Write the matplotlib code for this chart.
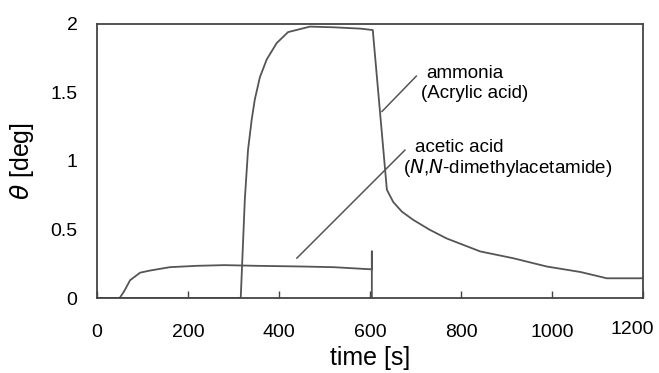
import matplotlib
matplotlib.use("Agg")
import matplotlib.pyplot as plt
import matplotlib.transforms as mtransforms

plt.rcParams['font.family'] = ['Liberation Sans', 'DejaVu Sans']

# acetic acid (N,N-dimethylacetamide)
acetic_t = [0, 50, 60, 73, 95, 116, 160, 220, 280, 350, 450, 520, 600, 604, 604, 604]
acetic_v = [0, 0, 0.05, 0.13, 0.185, 0.20, 0.225, 0.235, 0.24, 0.235, 0.23, 0.225, 0.21, 0.21, 0.34, 0.0]

# ammonia (Acrylic acid)
ammonia_t = [0, 316, 325, 332, 340, 347, 358, 373, 395, 420, 468, 520, 580, 606,
             637, 651, 670, 695, 730, 768, 842, 915, 988, 1062, 1120, 1193, 1200]
ammonia_v = [0, 0, 0.72, 1.08, 1.30, 1.45, 1.61, 1.74, 1.86, 1.94, 1.98, 1.975, 1.965, 1.955,
             0.79, 0.70, 0.63, 0.57, 0.50, 0.435, 0.34, 0.29, 0.23, 0.19, 0.144, 0.144, 0.145]

xticks = [0, 200, 400, 600, 800, 1000, 1200]
yticks = [0, 0.5, 1, 1.5, 2]
yticklabels = ['0', '0.5', '1', '1.5', '2']

fig = plt.figure(figsize=(6.59, 3.73), dpi=100)
ax = fig.add_axes([0.147, 0.201, 0.829, 0.735])

lc = '#555555'
ax.plot(acetic_t, acetic_v, color=lc, lw=1.3)
ax.plot(ammonia_t, ammonia_v, color=lc, lw=1.3)

ax.set_xlim(0, 1200)
ax.set_ylim(0, 2)
ax.set_xticks(xticks)
ax.set_yticks(yticks)
ax.set_yticklabels(yticklabels)
ax.tick_params(axis='x', direction='in', length=5, width=1, color='#444444',
               labelsize=14, pad=19)
ax.tick_params(axis='y', length=0, labelsize=14, pad=14)
for s in ax.spines.values():
    s.set_color('#444444')
    s.set_linewidth(1.3)

# last x tick label sits a little left and higher in the reference
last = ax.get_xticklabels()[-1]
last.set_transform(last.get_transform() +
                   mtransforms.ScaledTranslation(-0.11, 0.03, fig.dpi_scale_trans))

ax.set_xlabel('time [s]', fontsize=18, labelpad=3)
ax.set_ylabel(r'$\theta$ [deg]', fontsize=18, labelpad=10)

# annotation leader lines
ax.annotate('', xy=(626, 1.36), xytext=(702, 1.62),
            arrowprops=dict(arrowstyle='-', color=lc, lw=1.1, shrinkA=0, shrinkB=0))
ax.annotate('', xy=(439, 0.29), xytext=(677, 1.08),
            arrowprops=dict(arrowstyle='-', color=lc, lw=1.1, shrinkA=0, shrinkB=0))

ax.text(724, 1.64, 'ammonia', fontsize=13.5, va='center', ha='left')
ax.text(711, 1.49, '(Acrylic acid)', fontsize=13.5, va='center', ha='left')
ax.text(699, 1.10, 'acetic acid', fontsize=13.5, va='center', ha='left')
ax.text(672, 0.95, r'($\it{N}$,$\it{N}$-dimethylacetamide)', fontsize=13.5, va='center', ha='left')

fig.savefig('out.png', dpi=100)
